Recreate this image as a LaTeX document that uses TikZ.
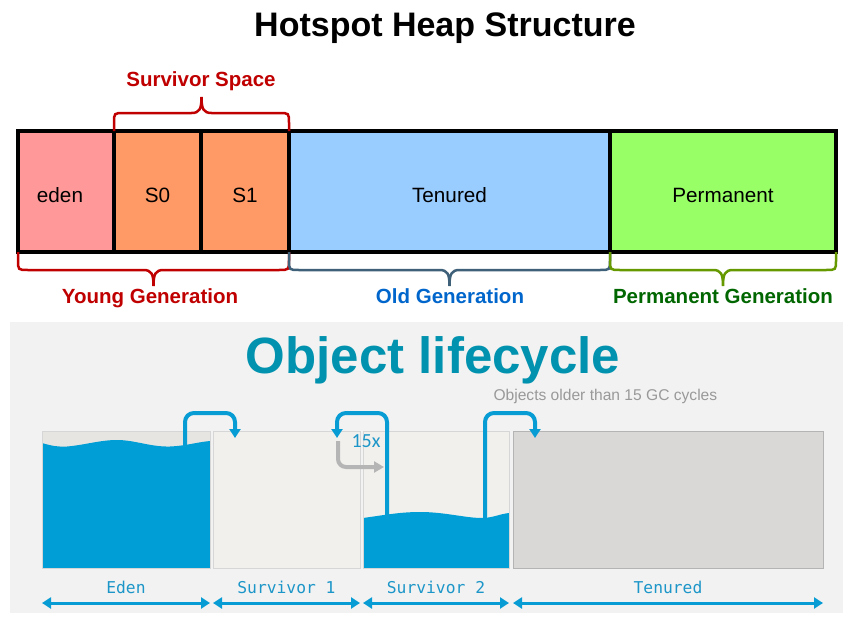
\documentclass[tikz,border=0pt]{standalone}
\usepackage{fontspec}
\setmainfont{Liberation Sans}
\newfontfamily\monof{DejaVu Sans Mono}
\newfontfamily\carl{Carlito}
\usetikzlibrary{arrows.meta,calc}
\definecolor{edenc}{HTML}{FF9999}
\definecolor{survc}{HTML}{FF9966}
\definecolor{tenc}{HTML}{99CCFF}
\definecolor{permc}{HTML}{99FF66}
\definecolor{redlab}{HTML}{C00000}
\definecolor{oldlab}{HTML}{0066CC}
\definecolor{oldbr}{HTML}{3F6079}
\definecolor{permlab}{HTML}{006600}
\definecolor{permbr}{HTML}{669900}
\definecolor{panelbg}{HTML}{F2F2F2}
\definecolor{water}{RGB}{0,158,214}
\definecolor{oltitle}{RGB}{0,146,174}
\definecolor{flowc}{RGB}{8,156,212}
\definecolor{graytxt}{HTML}{999999}
\definecolor{grayarr}{HTML}{B5B5B5}
\definecolor{lblc}{RGB}{28,150,200}
\definecolor{survfill}{HTML}{F2F0EC}
\definecolor{boxline}{HTML}{D6D6D6}
\definecolor{tenfill}{HTML}{D9D8D6}
\definecolor{tenline}{HTML}{B4B4B4}
\definecolor{edentop}{HTML}{E7E5E1}
\newcommand\curlybr[4]{%
 \draw[#1] let \p1=(#2), \p2=(#3) in
 (\p1) -- ({\x1},{\y1+(#4)*8pt}) .. controls ({\x1},{\y1+(#4)*18pt}) .. ({\x1+10pt},{\y1+(#4)*18pt})
 -- ({(\x1+\x2)/2-10pt},{\y1+(#4)*18pt}) .. controls ({(\x1+\x2)/2-2pt},{\y1+(#4)*18pt}) and ({(\x1+\x2)/2},{\y1+(#4)*22pt}) .. ({(\x1+\x2)/2},{\y1+(#4)*34pt})
 .. controls ({(\x1+\x2)/2},{\y1+(#4)*22pt}) and ({(\x1+\x2)/2+2pt},{\y1+(#4)*18pt}) .. ({(\x1+\x2)/2+10pt},{\y1+(#4)*18pt})
 -- ({\x2-10pt},{\y1+(#4)*18pt}) .. controls ({\x2},{\y1+(#4)*18pt}) .. ({\x2},{\y1+(#4)*8pt}) -- (\p2);}
\begin{document}
\begin{tikzpicture}[x=1pt,y=-1pt,
  heapbox/.style={draw=black, line width=4pt, inner sep=0pt, outer sep=0pt,
    minimum height=121pt, anchor=north west,
    font=\fontsize{20.7}{22}\selectfont, text height=21pt, text depth=0pt},
  genlab/.style={anchor=base, font=\bfseries\fontsize{20.5}{22}\selectfont},
  brc/.style={line width=2.5pt},
  lbox/.style={inner sep=0pt, outer sep=0pt, minimum height=137pt, anchor=north west},
  flow/.style={draw=flowc, line width=4pt, rounded corners=9pt, -{Triangle[width=11pt,length=9pt]}},
  garr/.style={draw=grayarr, line width=4pt, rounded corners=8pt, -{Triangle[width=11pt,length=10pt]}},
  span/.style={draw=flowc, line width=3pt, {Triangle[width=11pt,length=9pt]}-{Triangle[width=11pt,length=9pt]}},
  lab/.style={anchor=base, text=lblc, font=\monof\fontsize{16.3}{17}\selectfont}
]
\useasboundingbox (0,0) rectangle (857,626);
\fill[white] (0,0) rectangle (857,626);

% ---- Hotspot heap structure ----
\node[anchor=base, font=\bfseries\fontsize{34}{37}\selectfont] (title) at (445,37) {Hotspot Heap Structure};

\node[heapbox, fill=edenc, minimum width=96pt] (eden) at (18,131) {eden\hspace*{12pt}};
\node[heapbox, fill=survc, minimum width=87pt] (s0) at (114,131) {S0};
\node[heapbox, fill=survc, minimum width=88pt] (s1) at (201,131) {S1};
\node[heapbox, fill=tenc, minimum width=321pt] (ten) at (289,131) {Tenured};
\node[heapbox, fill=permc, minimum width=226pt] (perm) at (610,131) {Permanent};
\draw[line width=4pt] (eden.north west) rectangle (perm.south east);

\curlybr{brc, draw=redlab}{s0.north west}{s1.north east}{1}
\curlybr{brc, draw=redlab}{eden.south west}{s1.south east}{-1}
\curlybr{brc, draw=oldbr}{ten.south west}{ten.south east}{-1}
\curlybr{brc, draw=permbr}{perm.south west}{perm.south east}{-1}

\node[genlab, text=redlab] (survlab) at (201,87) {Survivor Space};
\node[genlab, text=redlab] (younglab) at (150,303) {Young Generation};
\node[genlab, text=oldlab] (oldlab) at (450,303) {Old Generation};
\node[genlab, text=permlab] (permlab) at (723,303) {Permanent Generation};

% ---- Object lifecycle ----
\fill[panelbg] (10,322) rectangle (843,613);
\node[anchor=base, text=oltitle, font=\bfseries\fontsize{51}{54}\selectfont] (oltitle) at (433,373) {Object lifecycle};

\node[lbox, fill=edentop, minimum width=168pt] (edenb) at (42,431) {};
\node[lbox, fill=survfill, minimum width=147pt] (surv1) at (213,431) {};
\node[lbox, fill=survfill, minimum width=146pt] (surv2) at (363,431) {};
\node[lbox, fill=tenfill, minimum width=310pt] (tenb) at (513,431) {};

\fill[water] (42,443) .. controls (52,446) and (58,447) .. (67,446.5)
  .. controls (85,445) and (100,440) .. (117,440)
  .. controls (135,440) and (150,447) .. (170,446.5)
  .. controls (185,446) and (198,442) .. (210,441) -- (210,568) -- (42,568) -- cycle;
\fill[water] (363,518) .. controls (385,515) and (400,512) .. (420,512)
  .. controls (445,512) and (465,518) .. (482,518)
  .. controls (492,518) and (500,514) .. (509,513) -- (509,568) -- (363,568) -- cycle;

\draw[boxline, line width=0.8pt] (edenb.north west) rectangle (edenb.south east);
\draw[boxline, line width=0.8pt] (surv1.north west) rectangle (surv1.south east);
\draw[boxline, line width=0.8pt] (surv2.north west) rectangle (surv2.south east);
\draw[tenline, line width=0.8pt] (tenb.north west) rectangle (tenb.south east);

\coordinate (top) at (0,413);
\coordinate (a1s) at (185,447);
\coordinate (a1e) at (235,438);
\coordinate (a2s) at (387,520);
\coordinate (a2e) at (337,438);
\coordinate (a3s) at (485,520);
\coordinate (a3e) at (535,438);
\draw[flow] (a1s) -- (a1s |- top) -- (a1e |- top) -- (a1e);
\draw[flow] (a2s) -- (a2s |- top) -- (a2e |- top) -- (a2e);
\draw[flow] (a3s) -- (a3s |- top) -- (a3e |- top) -- (a3e);

\coordinate (g1) at (338,441);
\coordinate (g2) at (384,467);
\draw[garr] (g1) |- (g2);

\node[anchor=base west, text=lblc, font=\carl\fontsize{20}{20}\selectfont] (n15) at (348,447) {15x};
\node[anchor=base west, text=graytxt, font=\fontsize{15.6}{17}\selectfont] (older) at (490,400) {Objects older than 15 GC cycles};

\coordinate (arr) at (0,603);
\coordinate (lb) at (0,593);
\draw[span] (edenb.south west |- arr) -- (edenb.south east |- arr);
\draw[span] (surv1.south west |- arr) -- (surv1.south east |- arr);
\draw[span] (surv2.south west |- arr) -- (surv2.south east |- arr);
\draw[span] (tenb.south west |- arr) -- (tenb.south east |- arr);
\node[lab] (l1) at (edenb.south |- lb) {Eden};
\node[lab] (l2) at (surv1.south |- lb) {Survivor 1};
\node[lab] (l3) at (surv2.south |- lb) {Survivor 2};
\node[lab] (l4) at (tenb.south |- lb) {Tenured};
\end{tikzpicture}
\end{document}
